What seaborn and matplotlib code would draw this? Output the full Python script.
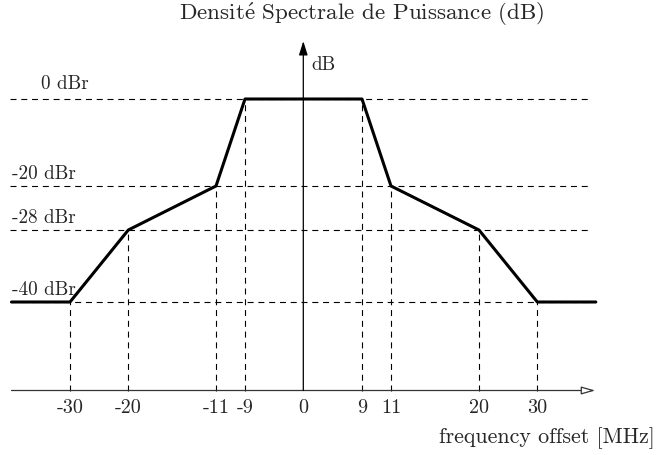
import numpy as np
import seaborn as sns
import matplotlib.pyplot as plt

# spectral mask corners (MHz, dBr)
mask_freq = [-40, -30, -20, -11, -9, 9, 11, 20, 30, 40]
mask_level = [-40, -40, -28, -20, 0, 0, -20, -28, -40, -40]

# reference levels and frequency ticks
ref_levels = [0, -20, -28, -40]
ref_labels = ["0 dBr", "-20 dBr", "-28 dBr", "-40 dBr"]
tick_freq = [-30, -20, -11, -9, 0, 9, 11, 20, 30]
tick_labels = ["-30", "-20", "-11", "-9", "0", "9", "11", "20", "30"]

sns.set_theme(style="white")
plt.rcParams["font.family"] = ["cmr10", "DejaVu Serif"]
plt.rcParams["mathtext.fontset"] = "cm"
plt.rcParams["axes.unicode_minus"] = False

# the drawing is schematic: both axes are piecewise-linear, not uniform
kx_mhz = [-60, -30, -20, -11, -9, 0, 9, 11, 20, 30, 60]
kx_pos = [-105.5, 70, 128.3, 216, 245, 303.3, 362, 391, 479, 537.3, 712.8]
ky_db = [-80, -40, -28, -20, 0, 40]
ky_pos = [-240, 0, 72, 116, 203, 377]


def xf(v):
    return np.interp(v, kx_mhz, kx_pos)


def xi(v):
    return np.interp(v, kx_pos, kx_mhz)


def yf(v):
    return np.interp(v, ky_db, ky_pos)


def yi(v):
    return np.interp(v, ky_pos, ky_db)


fig = plt.figure(figsize=(6.57, 4.55), dpi=100)
ax = fig.add_axes([0, 0, 1, 1])
ax.set_xscale("function", functions=(xf, xi))
ax.set_yscale("function", functions=(yf, yi))
ax.set_xlim(xi(0), xi(657))
ax.set_ylim(yi(-153), yi(302))
for s in ax.spines.values():
    s.set_visible(False)
ax.set_yticks([])
ax.set_xticks([])
ax.minorticks_off()

y_axis = -54.75
dash = (0, (5.4, 4.3))

# horizontal reference lines + labels
for lvl, lab in zip(ref_levels, ref_labels):
    ax.plot([-40.3, 39.3], [lvl, lvl], color="black", lw=0.8, ls=dash)
    x_lab = -35 if lvl == 0 else -40
    dy = 7 if lvl == 0 else 5
    ax.annotate(lab, (x_lab, lvl), xytext=(0, dy), textcoords="offset points",
                ha="left", va="baseline", fontsize=13.8)

# vertical dashed lines from axis to the mask
for f in tick_freq:
    if f == 0:
        continue
    lvl = np.interp(f, mask_freq, mask_level)
    ax.plot([f, f], [y_axis, lvl], color="black", lw=0.8, ls=dash)

# the mask itself
sns.lineplot(x=mask_freq, y=mask_level, ax=ax, color="black", lw=2.2,
             sort=False, estimator=None)

# axes with arrows
ax.annotate("", xy=(39.9, y_axis), xytext=(-40, y_axis),
            arrowprops=dict(arrowstyle="-|>,head_length=0.7,head_width=0.2",
                            ec="#333333", fc="white", lw=0.9,
                            mutation_scale=12, shrinkA=0, shrinkB=0))
ax.annotate("", xy=(0, 13.3), xytext=(0, y_axis),
            arrowprops=dict(arrowstyle="-|>,head_length=0.7,head_width=0.22",
                            color="black", lw=0.9,
                            mutation_scale=12, shrinkA=0, shrinkB=0))
ax.text(1.2, 6.7, "dB", ha="left", va="baseline", fontsize=13.8)

for f, lab in zip(tick_freq, tick_labels):
    ax.annotate(lab, (f, y_axis), xytext=(0, -16.3), textcoords="offset points",
                ha="center", va="baseline", fontsize=14.5)

ax.text(0.997, 0.026, "frequency offset [MHz]", transform=ax.transAxes,
        ha="right", va="baseline", fontsize=15.8)
ax.text(0.551, 0.956, r"Densit$\mathrm{\acute{e}}$ Spectrale de Puissance (dB)",
        transform=ax.transAxes, ha="center", va="baseline", fontsize=16.6)

fig.savefig("out.png", dpi=100)
